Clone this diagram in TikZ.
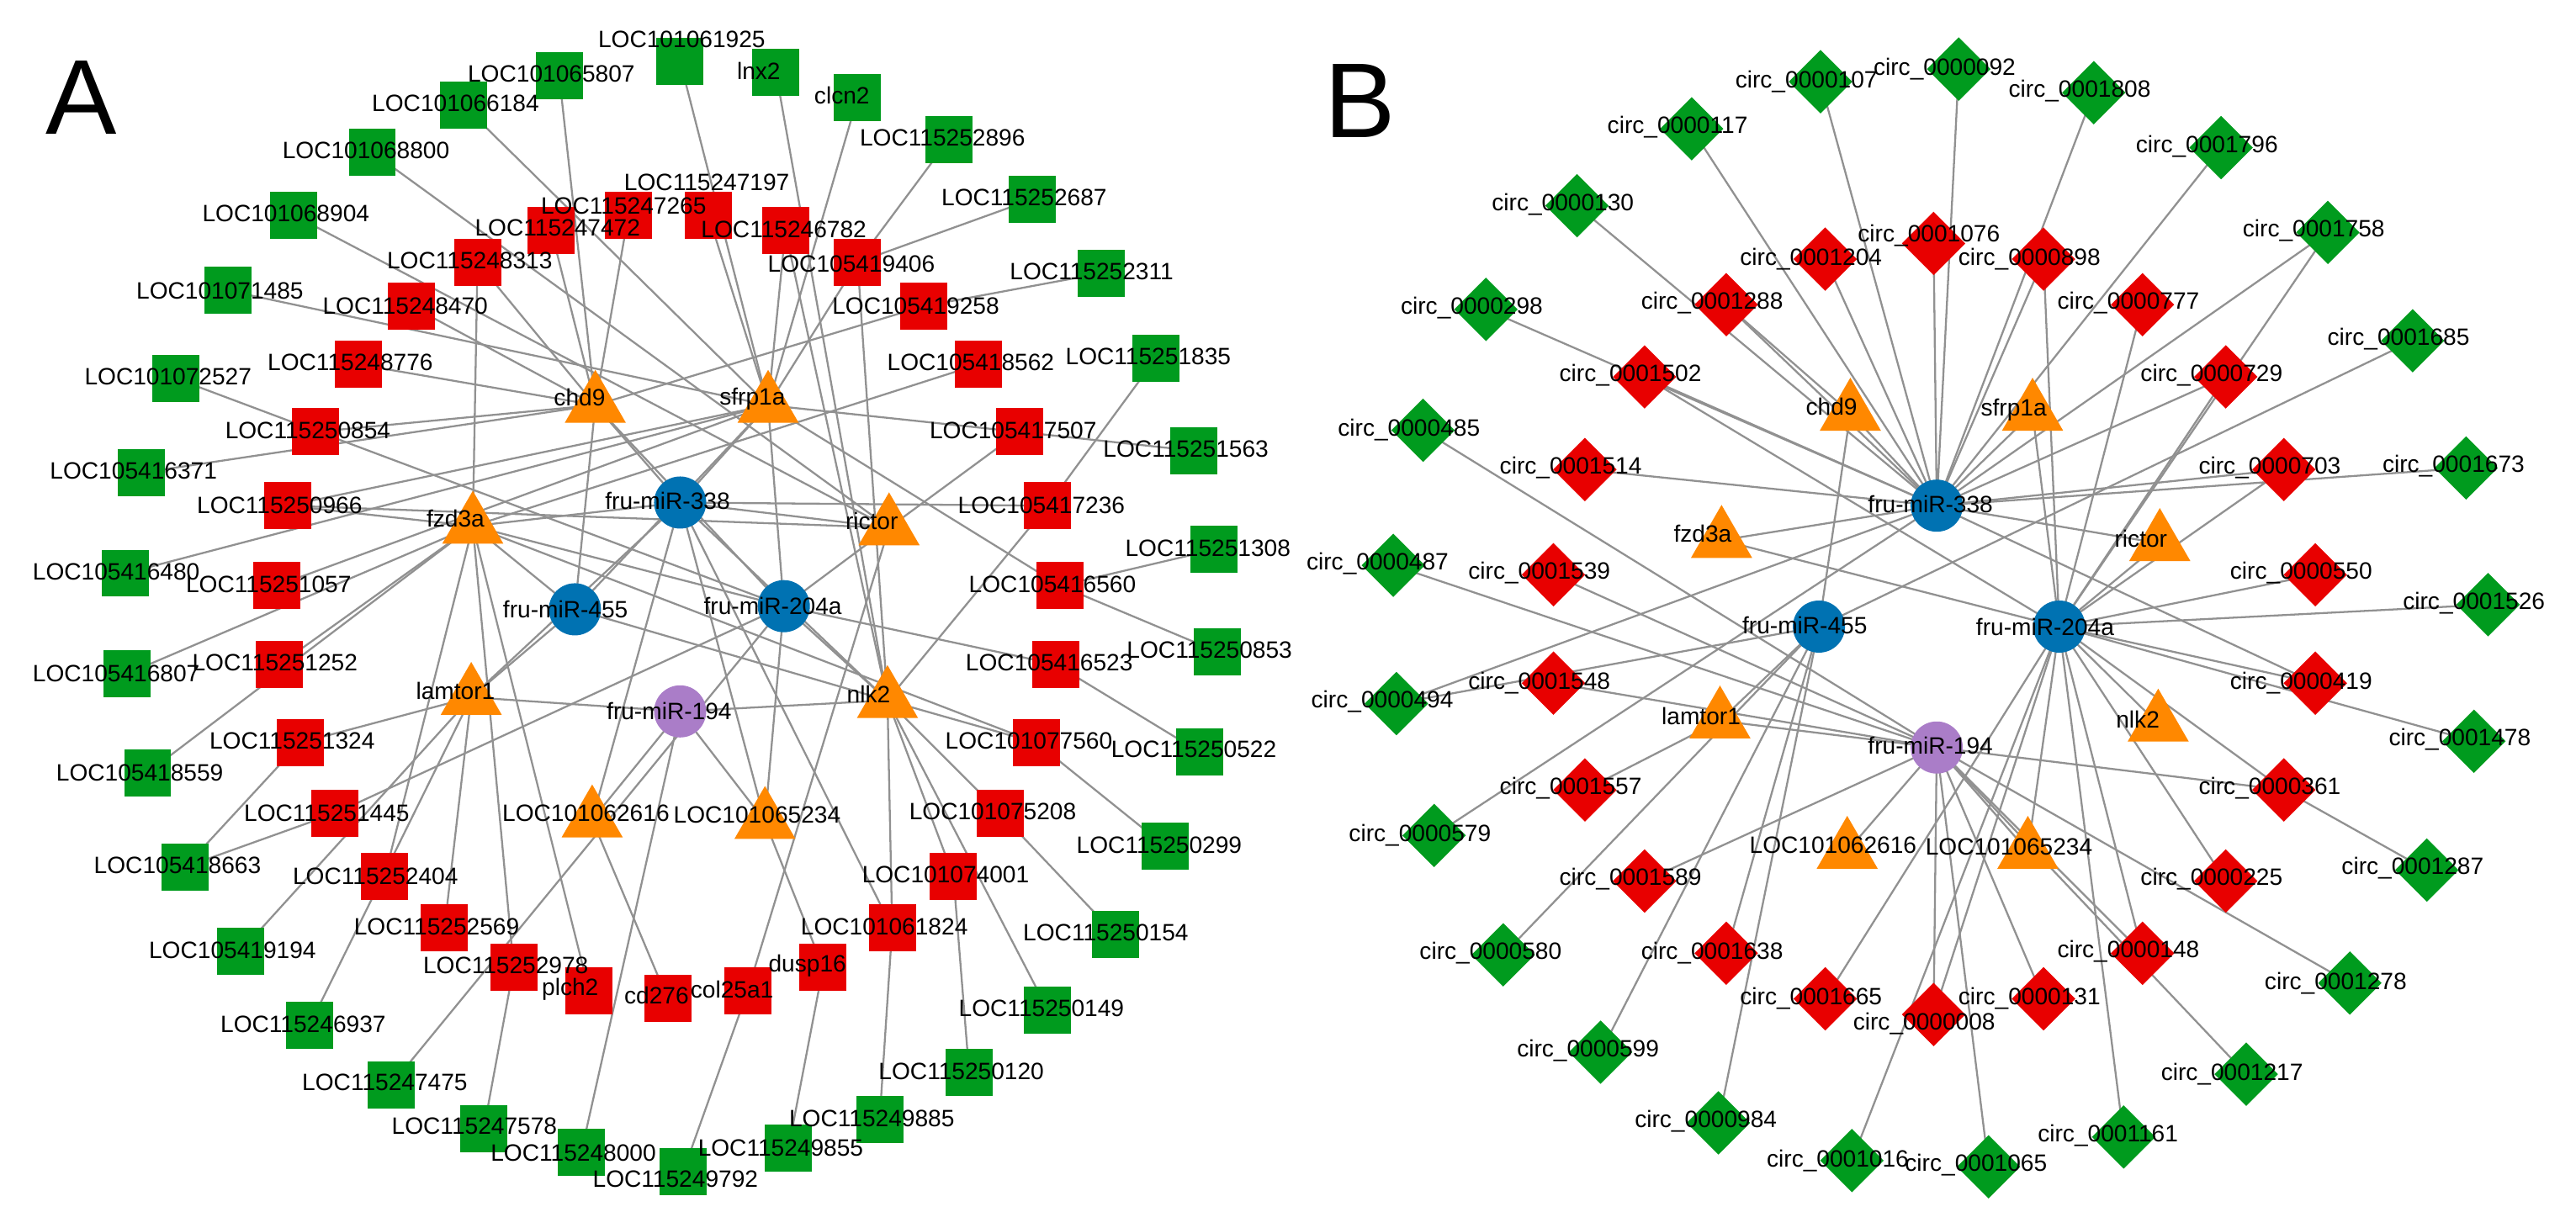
\documentclass[tikz,border=0pt]{standalone}
\usepackage{fontspec}
\setmainfont{Liberation Sans}
\usetikzlibrary{shapes.geometric,backgrounds}
\pgfdeclarelayer{fore}
\pgfsetlayers{background,main,fore}
\definecolor{gG}{RGB}{0,155,30}
\definecolor{gR}{RGB}{232,0,0}
\definecolor{gO}{RGB}{255,136,0}
\definecolor{gB}{RGB}{0,114,178}
\definecolor{gP}{RGB}{170,125,200}
\definecolor{gE}{RGB}{145,145,145}
\tikzset{
  sqG/.style={rectangle,fill=gG,minimum size=0.56cm,inner sep=0},
  sqR/.style={rectangle,fill=gR,minimum size=0.56cm,inner sep=0},
  dG/.style={diamond,fill=gG,minimum size=0.76cm,inner sep=0},
  dR/.style={diamond,fill=gR,minimum size=0.76cm,inner sep=0},
  tri/.style={regular polygon,regular polygon sides=3,fill=gO,minimum size=0.84cm,inner sep=0},
  mB/.style={circle,fill=gB,minimum size=0.62cm,inner sep=0},
  mP/.style={circle,fill=gP,minimum size=0.62cm,inner sep=0},
  lab/.style={font=\fontsize{8}{9}\selectfont,inner sep=0},
  ed/.style={draw=gE,line width=0.65pt}
}
\newcommand{\nd}[5]{\node[#2] (#1) at (#3) {}; \begin{pgfonlayer}{fore}\node[lab] at (#5) {#4};\end{pgfonlayer}}
\newcommand{\eds}[2]{\foreach \t in {#2} {\draw[ed] (#1.center) -- (\t.center);}}
\begin{document}
\begin{tikzpicture}[x=0.01867cm,y=-0.01867cm]
\useasboundingbox (0,0) rectangle (1640,781.5);
\node[font=\fontsize{36}{40}\selectfont] at (52,62) {A};
\node[font=\fontsize{36}{40}\selectfont] at (866,64) {B};
% ---------------- Panel A ----------------
\nd{a101065807}{sqG}{356,48}{LOC101065807}{351,47}
\nd{a101066184}{sqG}{295,67}{LOC101066184}{290,66}
\nd{a101068800}{sqG}{237,97}{LOC101068800}{233,96}
\nd{a101068904}{sqG}{187,137}{LOC101068904}{182,136}
\nd{a101071485}{sqG}{145,185}{LOC101071485}{140,185}
\nd{a101072527}{sqG}{112,241}{LOC101072527}{107,240}
\nd{a105416371}{sqG}{90,301}{LOC105416371}{85,300}
\nd{a105416480}{sqG}{80,365}{LOC105416480}{74,364}
\nd{a101061925}{sqG}{433,39}{LOC101061925}{434,25}
\nd{alnx2}{sqG}{494,46}{lnx2}{483,45}
\nd{aclcn2}{sqG}{546,62}{clcn2}{536,61}
\nd{a115252896}{sqG}{604,89}{LOC115252896}{600,88}
\nd{a115252687}{sqG}{657,127}{LOC115252687}{652,126}
\nd{a115252311}{sqG}{701,174}{LOC115252311}{695,173}
\nd{a115251835}{sqG}{736,228}{LOC115251835}{731,227}
\nd{a115251563}{sqG}{760,287}{LOC115251563}{755,286}
\nd{a115251308}{sqG}{773,350}{LOC115251308}{769,349}
\nd{a115250853}{sqG}{775,415}{LOC115250853}{770,414}
\nd{a115250522}{sqG}{764,479}{LOC115250522}{760,477}
\nd{a115250299}{sqG}{742,539}{LOC115250299}{738,538}
\nd{a115250154}{sqG}{710,595}{LOC115250154}{704,594}
\nd{a115250149}{sqG}{667,643}{LOC115250149}{663,642}
\nd{a115250120}{sqG}{617,683}{LOC115250120}{612,682}
\nd{a115249885}{sqG}{560,713}{LOC115249885}{555,712}
\nd{a115249855}{sqG}{502,731}{LOC115249855}{497,731}
\nd{a115249792}{sqG}{435,746}{LOC115249792}{430,751}
\nd{a115248000}{sqG}{370,734}{LOC115248000}{365,734}
\nd{a115247578}{sqG}{308,719}{LOC115247578}{302,717}
\nd{a115247475}{sqG}{249,691}{LOC115247475}{245,689}
\nd{a115246937}{sqG}{197,653}{LOC115246937}{193,652}
\nd{a105419194}{sqG}{153,606}{LOC105419194}{148,605}
\nd{a105418663}{sqG}{118,552}{LOC105418663}{113,551}
\nd{a105418559}{sqG}{94,492}{LOC105418559}{89,492}
\nd{a105416807}{sqG}{81,429}{LOC105416807}{74,429}
% reds
\nd{a115247472}{sqR}{351,147}{LOC115247472}{355,145}
\nd{a115247265}{sqR}{400,137}{LOC115247265}{397,131}
\nd{a115247197}{sqR}{451,137}{LOC115247197}{450,116}
\nd{a115248313}{sqR}{304,167}{LOC115248313}{299,166}
\nd{a115248470}{sqR}{262,195}{LOC115248470}{258,195}
\nd{a115248776}{sqR}{228,232}{LOC115248776}{223,231}
\nd{a115250854}{sqR}{201,275}{LOC115250854}{196,274}
\nd{a115250966}{sqR}{183,322}{LOC115250966}{178,322}
\nd{a115251057}{sqR}{176,373}{LOC115251057}{171,372}
\nd{a115246782}{sqR}{500,147}{LOC115246782}{499,146}
\nd{a105419406}{sqR}{546,167}{LOC105419406}{542,168}
\nd{a105419258}{sqR}{588,195}{LOC105419258}{583,195}
\nd{a105418562}{sqR}{623,232}{LOC105418562}{618,231}
\nd{a105417507}{sqR}{649,275}{LOC105417507}{645,274}
\nd{a105417236}{sqR}{667,322}{LOC105417236}{663,322}
\nd{a105416560}{sqR}{675,373}{LOC105416560}{670,372}
\nd{a105416523}{sqR}{672,423}{LOC105416523}{668,422}
\nd{a101077560}{sqR}{660,473}{LOC101077560}{655,472}
\nd{a101075208}{sqR}{637,518}{LOC101075208}{632,517}
\nd{a101074001}{sqR}{607,558}{LOC101074001}{602,557}
\nd{a101061824}{sqR}{568,591}{LOC101061824}{563,590}
\nd{adusp16}{sqR}{524,616}{dusp16}{514,615}
\nd{acol25a1}{sqR}{476,631}{col25a1}{466,630}
\nd{acd276}{sqR}{425,636}{cd276}{418,634}
\nd{aplch2}{sqR}{375,631}{plch2}{363,630}
\nd{a115252978}{sqR}{327,616}{LOC115252978}{322,615}
\nd{a115252569}{sqR}{283,591}{LOC115252569}{278,590}
\nd{a115252404}{sqR}{245,558}{LOC115252404}{239,558}
\nd{a115251445}{sqR}{213,518}{LOC115251445}{208,518}
\nd{a115251324}{sqR}{191,473}{LOC115251324}{186,472}
\nd{a115251252}{sqR}{178,423}{LOC115251252}{175,422}
% hubs
\nd{ach}{tri}{379,258}{chd9}{369,253}
\nd{asf}{tri}{489,258}{sfrp1a}{479,254}
\nd{afz}{tri}{301,335}{fzd3a}{290,330}
\nd{ari}{tri}{566,336}{rictor}{555,332}
\nd{ala}{tri}{300,444}{lamtor1}{290,440}
\nd{anl}{tri}{565,446}{nlk2}{553,442}
\nd{a62616}{tri}{377,522}{LOC101062616}{373,518}
\nd{a65234}{tri}{487,523}{LOC101065234}{482,519}
\nd{am338}{mB}{433,320}{fru-miR-338}{425,319}
\nd{am455}{mB}{366,388}{fru-miR-455}{360,388}
\nd{am204}{mB}{499,386}{fru-miR-204a}{492,386}
\nd{am194}{mP}{433,453}{fru-miR-194}{426,453}
% ---------------- Panel B ----------------
\nd{b0000107}{dG}{1159,52}{circ\_0000107}{1150,52}
\nd{b0000092}{dG}{1247,44}{circ\_0000092}{1238,44}
\nd{b0001808}{dG}{1333,59}{circ\_0001808}{1324,58}
\nd{b0001796}{dG}{1414,94}{circ\_0001796}{1405,93}
\nd{b0001758}{dG}{1482,148}{circ\_0001758}{1473,147}
\nd{b0001685}{dG}{1536,217}{circ\_0001685}{1527,216}
\nd{b0001673}{dG}{1570,298}{circ\_0001673}{1562,297}
\nd{b0001526}{dG}{1584,385}{circ\_0001526}{1575,384}
\nd{b0001478}{dG}{1575,472}{circ\_0001478}{1566,471}
\nd{b0001287}{dG}{1545,554}{circ\_0001287}{1536,553}
\nd{b0001278}{dG}{1496,626}{circ\_0001278}{1487,626}
\nd{b0001217}{dG}{1430,684}{circ\_0001217}{1421,684}
\nd{b0001161}{dG}{1352,724}{circ\_0001161}{1342,723}
\nd{b0001065}{dG}{1266,743}{circ\_0001065}{1258,742}
\nd{b0001016}{dG}{1179,739}{circ\_0001016}{1170,739}
\nd{b0000984}{dG}{1094,715}{circ\_0000984}{1086,714}
\nd{b0000599}{dG}{1019,670}{circ\_0000599}{1011,669}
\nd{b0000580}{dG}{957,608}{circ\_0000580}{949,607}
\nd{b0000579}{dG}{913,532}{circ\_0000579}{904,532}
\nd{b0000494}{dG}{889,448}{circ\_0000494}{880,447}
\nd{b0000487}{dG}{887,360}{circ\_0000487}{877,359}
\nd{b0000485}{dG}{906,274}{circ\_0000485}{897,274}
\nd{b0000298}{dG}{946,197}{circ\_0000298}{937,196}
\nd{b0000130}{dG}{1004,131}{circ\_0000130}{995,130}
\nd{b0000117}{dG}{1077,82}{circ\_0000117}{1068,81}
% reds B
\nd{b0001288}{dR}{1099,194}{circ\_0001288}{1090,193}
\nd{b0001204}{dR}{1162,165}{circ\_0001204}{1153,165}
\nd{b0001076}{dR}{1231,155}{circ\_0001076}{1228,150}
\nd{b0000898}{dR}{1301,165}{circ\_0000898}{1292,165}
\nd{b0000777}{dR}{1364,194}{circ\_0000777}{1355,193}
\nd{b0000729}{dR}{1417,240}{circ\_0000729}{1408,239}
\nd{b0000703}{dR}{1454,299}{circ\_0000703}{1445,298}
\nd{b0000550}{dR}{1474,366}{circ\_0000550}{1465,365}
\nd{b0000419}{dR}{1474,435}{circ\_0000419}{1465,435}
\nd{b0000361}{dR}{1454,503}{circ\_0000361}{1445,502}
\nd{b0000225}{dR}{1417,561}{circ\_0000225}{1408,560}
\nd{b0000148}{dR}{1364,607}{circ\_0000148}{1355,606}
\nd{b0000131}{dR}{1301,636}{circ\_0000131}{1292,636}
\nd{b0000008}{dR}{1231,646}{circ\_0000008}{1225,652}
\nd{b0001665}{dR}{1162,636}{circ\_0001665}{1153,636}
\nd{b0001638}{dR}{1099,607}{circ\_0001638}{1090,607}
\nd{b0001589}{dR}{1047,561}{circ\_0001589}{1038,560}
\nd{b0001557}{dR}{1009,503}{circ\_0001557}{1000,502}
\nd{b0001548}{dR}{989,435}{circ\_0001548}{980,435}
\nd{b0001539}{dR}{989,366}{circ\_0001539}{980,365}
\nd{b0001514}{dR}{1009,299}{circ\_0001514}{1000,298}
\nd{b0001502}{dR}{1047,240}{circ\_0001502}{1038,239}
% hubs B
\nd{bch}{tri}{1178,263}{chd9}{1166,259}
\nd{bsf}{tri}{1294,263}{sfrp1a}{1282,261}
\nd{bfz}{tri}{1096,344}{fzd3a}{1084,340}
\nd{bri}{tri}{1375,346}{rictor}{1363,343}
\nd{bla}{tri}{1095,459}{lamtor1}{1083,456}
\nd{bnl}{tri}{1374,461}{nlk2}{1361,458}
\nd{b62616}{tri}{1176,542}{LOC101062616}{1167,538}
\nd{b65234}{tri}{1291,542}{LOC101065234}{1279,539}
\nd{bm338}{mB}{1233,322}{fru-miR-338}{1229,321}
\nd{bm455}{mB}{1158,399}{fru-miR-455}{1149,398}
\nd{bm204}{mB}{1311,399}{fru-miR-204a}{1302,399}
\nd{bm194}{mP}{1233,476}{fru-miR-194}{1229,475}
% ---------------- edges ----------------
\begin{scope}[on background layer]
\eds{am338}{ach,asf,afz,ari,ala,anl,a62616,a65234}
\eds{am455}{ach,asf,afz,ala,anl}
\eds{am204}{ach,asf,afz,ari,anl,a65234}
\eds{am194}{ala,anl,a65234,a62616,a115248000}
\eds{ach}{a101065807,a105416371,a115248313,a115247472,a115247265,a105419258,a115248776,a115250854,a115248470}
\eds{asf}{a101066184,a101071485,a105416480,a101061925,aclcn2,a115247197,a115246782,a105419406,a105417507,a105416560,a115250966,a115251057}
\eds{afz}{a105418559,a105416807,a115248313,a105418562,a115251252,a115252404,a115252978,aplch2,a101077560,a115250966}
\eds{ari}{a101068800,a101068904,a105417507,acol25a1,a115250966}
\eds{ala}{a115246937,a105419194,a115251324,a115252569}
\eds{anl}{alnx2,a115250149,a115246782,a105419406,a105417236,a101061824,a101074001,a101075208,a101077560}
\eds{am204}{a101072527,a115247475,a115251445,a105416523}
\eds{am338}{a105417236,a101061824}
\draw[ed] (a62616.center) -- (acd276.center);
\draw[ed] (a65234.center) -- (adusp16.center);
\eds{a105419406}{a115252896,a115252687}
\draw[ed] (a105419258.center) -- (a115252311.center);
\draw[ed] (a105417236.center) -- (a115251835.center);
\draw[ed] (a105417507.center) -- (a115251563.center);
\eds{a105416560}{a115251308,a115250853}
\draw[ed] (a105416523.center) -- (a115250522.center);
\draw[ed] (a101077560.center) -- (a115250299.center);
\draw[ed] (a101075208.center) -- (a115250154.center);
\draw[ed] (a101074001.center) -- (a115250120.center);
\draw[ed] (a101061824.center) -- (a115249885.center);
\draw[ed] (adusp16.center) -- (a115249855.center);
\draw[ed] (acol25a1.center) -- (a115249792.center);
\draw[ed] (a115252978.center) -- (a115247578.center);
\eds{a105418663}{a115251445,a115251324}
% B
\eds{bm338}{bch,bsf,bfz,bri,b0000107,b0000117,b0000130,b0000298,b0001288,b0001204,b0001502,b0001514,b0001076,b0000092,b0001808,b0001796,b0001758,b0001673,b0000898,b0000729,b0000703,b0000419,b0000579,b0000494}
\eds{bm455}{bla,bch,b0001685,b0000984,b0001638,b0000599,b0000580,b0000494}
\eds{bm204}{bnl,bri,bfz,b65234,bsf,b0001502,b0001758,b0000898,b0000777,b0000729,b0000703,b0000550,b0001526,b0000419,b0001478,b0000361,b0000225,b0000148,b0001161,b0000008,b0001016,b0001665}
\eds{bm194}{bla,b62616,b65234,b0000485,b0000487,b0001539,b0001548,b0000361,b0001278,b0000148,b0001217,b0000131,b0001065,b0000008,b0001589}
\eds{bch}{b0001288}
\eds{bla}{b0001557}
\draw[ed] (b0000361.center) -- (b0001287.center);
\end{scope}
\end{tikzpicture}
\end{document}
